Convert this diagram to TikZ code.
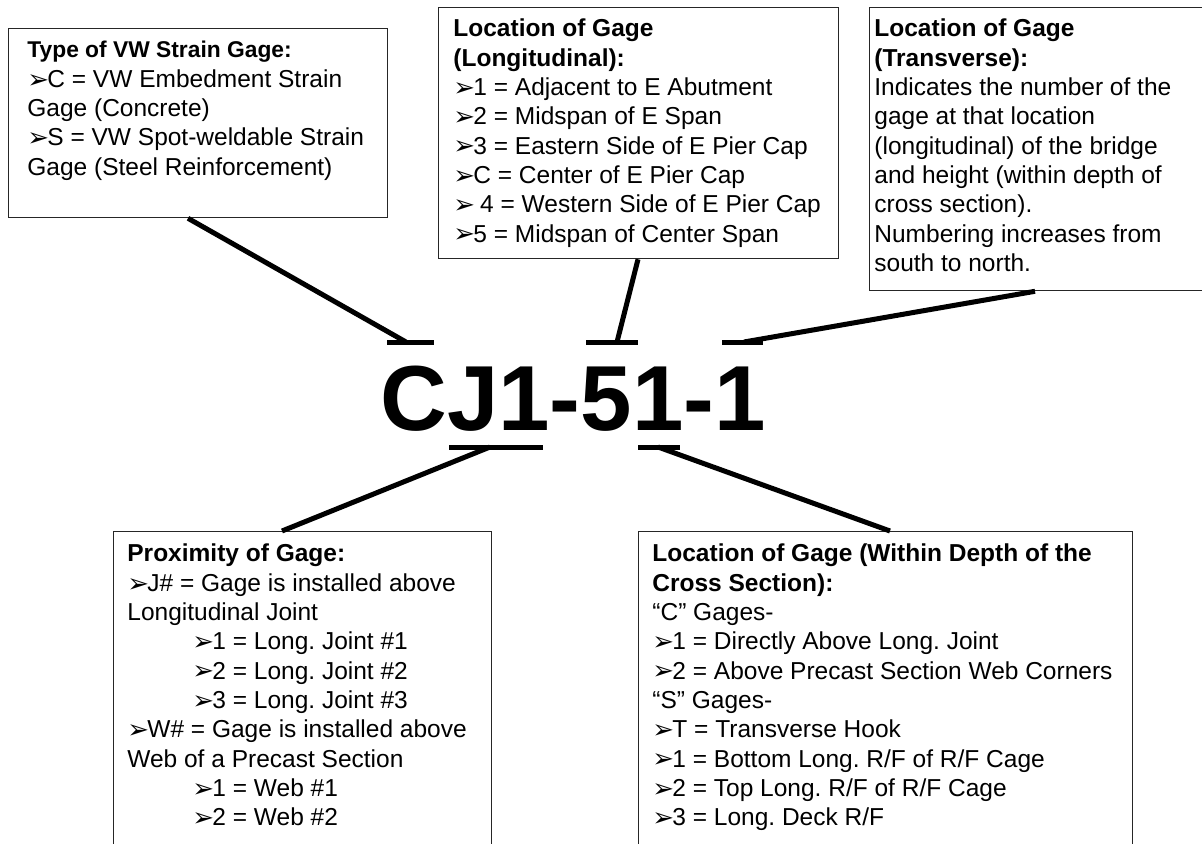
\documentclass[tikz,border=0pt]{standalone}
\usepackage{fontspec}
\setmainfont{Liberation Sans}
\newfontfamily\arrowfont{DejaVu Sans}
\usetikzlibrary{calc}
\frenchspacing
% list bullet: three-dimensional arrowhead
\newcommand{\bul}{\raisebox{-0.4pt}{\arrowfont\fontsize{13}{13}\selectfont ➢}\kern-0.9pt}
\newcommand{\ind}{\hspace*{32.5pt}}

\begin{document}
\begin{tikzpicture}[x=0.5pt,y=-0.5pt,
  box/.style={draw=black!85, line width=0.65pt, fill=white, inner sep=0pt, anchor=north west},
  txt/.style={anchor=north west, inner sep=0pt, align=left,
    font=\fontsize{12.25}{14.65}\selectfont},
  link/.style={line width=2.5pt, black},
  bar/.style={line width=2.5pt, black}]
\fill[white] (0,0) rectangle (1202,844);
\begin{scope}
\clip (0,0) rectangle (1202,844);

% ---- explanation boxes ----
\node[box, minimum width={379*0.5pt}, minimum height={189*0.5pt}] (b1) at (8,28) {};
\node[txt] (b1t) at ($(b1.north west)+(19,9)$) {\strut{\fontsize{11.4}{14.65}\selectfont\bfseries Type of VW Strain Gage:}\\
\bul C = VW Embedment Strain\\
Gage (Concrete)\\
\bul S = VW Spot-weldable Strain\\
Gage (Steel Reinforcement)};

\node[box, minimum width={400*0.5pt}, minimum height={251*0.5pt}] (b2) at (438,7) {};
\node[txt] (b2t) at ($(b2.north west)+(15,9)$) {\strut\textbf{Location of Gage}\\
\textbf{(Longitudinal):}\\
\bul 1 = Adjacent to E Abutment\\
\bul 2 = Midspan of E Span\\
\bul 3 = Eastern Side of E Pier Cap\\
\bul C = Center of E Pier Cap\\
\bul\ 4 = Western Side of E Pier Cap\\
\bul 5 = Midspan of Center Span};

\node[box, minimum width={350*0.5pt}, minimum height={283*0.5pt}] (b3) at (869,7) {};
\node[txt] (b3t) at ($(b3.north west)+(5,9)$) {\strut\textbf{Location of Gage}\\
\textbf{(Transverse):}\\
Indicates the number of the\\
gage at that location\\
(longitudinal) of the bridge\\
and height (within depth of\\
cross section).\\
Numbering increases from\\
south to north.};

\node[box, minimum width={378*0.5pt}, minimum height={340*0.5pt}] (b4) at (113,531) {};
\node[txt] (b4t) at ($(b4.north west)+(14,10)$) {\strut\textbf{Proximity of Gage:}\\
\bul J\# = Gage is installed above\\
Longitudinal Joint\\
\ind\bul 1 = Long. Joint \#1\\
\ind\bul 2 = Long. Joint \#2\\
\ind\bul 3 = Long. Joint \#3\\
\bul W\# = Gage is installed above\\
Web of a Precast Section\\
\ind\bul 1 = Web \#1\\
\ind\bul 2 = Web \#2};

\node[box, minimum width={494*0.5pt}, minimum height={340*0.5pt}] (b5) at (638,531) {};
\node[txt] (b5t) at ($(b5.north west)+(14,10)$) {\strut\textbf{Location of Gage (Within Depth of the}\\
\textbf{Cross Section):}\\
“C” Gages-\\
\bul 1 = Directly Above Long. Joint\\
\bul 2 = Above Precast Section Web Corners\\
“S” Gages-\\
\bul T = Transverse Hook\\
\bul 1 = Bottom Long. R/F of R/F Cage\\
\bul 2 = Top Long. R/F of R/F Cage\\
\bul 3 = Long. Deck R/F};

% ---- gage designation ----
\node[anchor=base west, inner sep=0pt, font=\bfseries\fontsize{46.2}{46.2}\selectfont] (code) at (380,430) {CJ1-51-1};

% marker bars over and under the characters
\draw[bar] (387,342) -- (434,342);
\draw[bar] (586,342) -- (638,342);
\draw[bar] (722,342) -- (763,342);
\draw[bar] (449,447) -- (543,447);
\draw[bar] (638,447) -- (680,447);

\coordinate (mC) at (406,342);
\coordinate (m5) at (617,342);
\coordinate (m1) at (744,342);
\coordinate (mJ) at (490,447);
\coordinate (mD) at (658,447);

% ---- leader lines ----
\draw[link] ($(b1.south west)+(180,0)$) -- (mC);
\draw[link] ($(b2.south west)+(200,0)$) -- (m5);
\draw[link] ($(b3.south west)+(166,0)$) -- (m1);
\draw[link] ($(b4.north west)+(169,0)$) -- (mJ);
\draw[link] ($(b5.north west)+(252,0)$) -- (mD);
\end{scope}

\pgfresetboundingbox
\path[use as bounding box] (0,0) rectangle (1202,844);
\end{tikzpicture}
\end{document}
